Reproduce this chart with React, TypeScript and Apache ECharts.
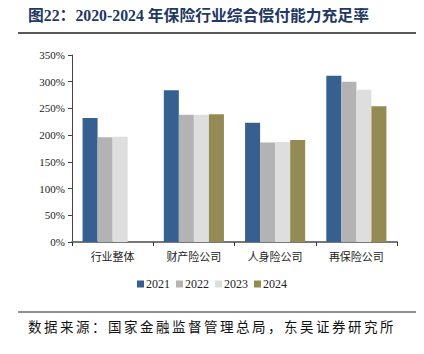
import React, { useEffect, useRef } from "react";
import * as echarts from "echarts";

const categories = ["行业整体", "财产险公司", "人身险公司", "再保险公司"];
const seriesNames = ["2021", "2022", "2023", "2024"];
const values2021 = [232, 284, 223, 311];
const values2022 = [196, 238, 186, 300];
const values2023 = [197, 238, 187, 285];
const values2024: (number | null)[] = [null, 239, 191, 254];
const yTicks = [0, 50, 100, 150, 200, 250, 300, 350];
const colors = ["#36608F", "#B3B3B3", "#DEDEDE", "#948B54"];
const titleText = "图22：2020-2024 年保险行业综合偿付能力充足率";
const sourceText = "数据来源：国家金融监督管理总局，东吴证券研究所";

const serif = "'Liberation Serif', 'Times New Roman', serif";
const cjk = "'Noto Sans CJK SC', sans-serif";

export default function App() {
  const ref = useRef<HTMLDivElement>(null);
  useEffect(() => {
    if (!ref.current) return;
    const chart = echarts.init(ref.current, null, { renderer: "svg" });
    const data = [values2021, values2022, values2023, values2024];
    const sourceChars = Array.from(sourceText).map((ch, i) => ({
      type: "text",
      x: 28 + i * 16,
      y: 319,
      style: { text: ch, fill: "#111", font: `normal 13.5px ${cjk}` },
    }));
    chart.setOption({
      animation: false,
      backgroundColor: "#ffffff",
      graphic: [
        {
          type: "text",
          left: 28,
          top: 8,
          style: {
            text: titleText,
            fill: "#1F3864",
            font: `bold 15.8px ${serif}, ${cjk}`,
          },
        },
        {
          type: "line",
          shape: { x1: 18, y1: 33, x2: 420, y2: 33 },
          style: { stroke: "#222", lineWidth: 1.5 },
        },
        {
          type: "line",
          shape: { x1: 18, y1: 312, x2: 420, y2: 312 },
          style: { stroke: "#222", lineWidth: 1.2 },
        },
        ...sourceChars,
      ],
      grid: { left: 72, right: 27, top: 55, bottom: 112 },
      legend: {
        data: seriesNames,
        bottom: 59,
        left: "center",
        itemWidth: 7,
        itemHeight: 7,
        itemGap: 6,
        icon: "rect",
        textStyle: { fontFamily: serif, fontSize: 12, color: "#222", padding: [0, 0, 0, -3] },
      },
      xAxis: {
        type: "category",
        data: categories,
        axisLine: { lineStyle: { color: "#777", width: 2 } },
        axisTick: { show: true, length: 4, lineStyle: { color: "#333" } },
        axisLabel: { fontFamily: cjk, fontSize: 11, color: "#222", margin: 8 },
      },
      yAxis: {
        type: "value",
        min: 0,
        max: 350,
        interval: 50,
        axisLine: { show: true, lineStyle: { color: "#444" } },
        axisTick: { show: true, length: 4, lineStyle: { color: "#444" } },
        splitLine: { show: false },
        axisLabel: {
          fontFamily: serif,
          fontSize: 11,
          color: "#222",
          margin: 7,
          formatter: (v: number) => (yTicks.includes(v) ? `${v}%` : ""),
        },
      },
      series: seriesNames.map((name, i) => ({
        name,
        type: "bar",
        data: data[i],
        barGap: "0%",
        barCategoryGap: "26%",
        itemStyle: { color: colors[i] },
      })),
    });
    return () => chart.dispose();
  }, []);
  return <div ref={ref} style={{ width: 424, height: 354, margin: -8 }} />;
}
